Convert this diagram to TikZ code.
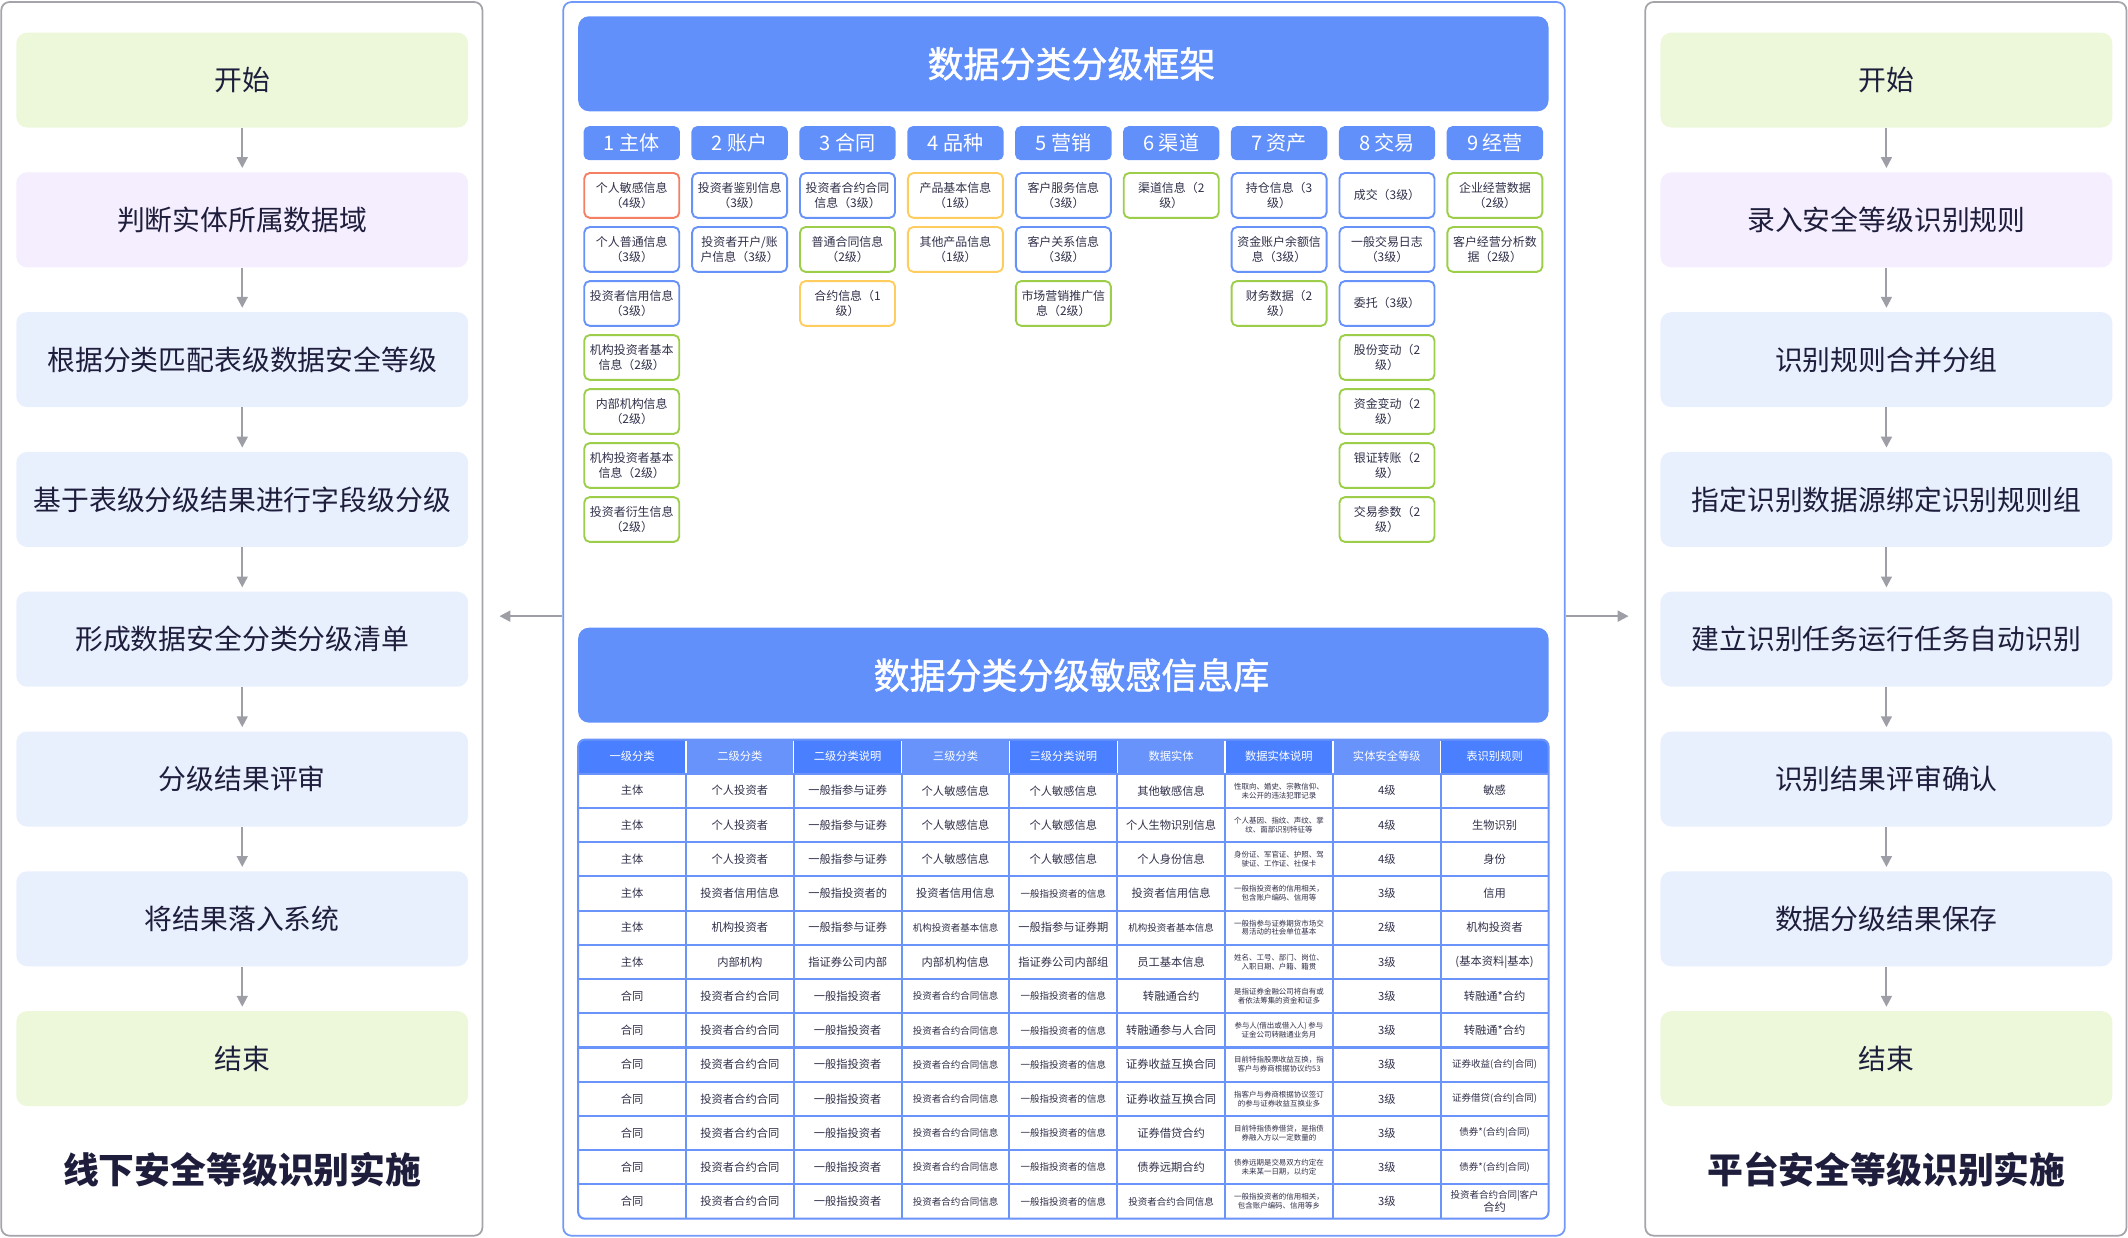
\documentclass[tikz,border=0pt]{standalone}
\usepackage{fontspec}
\setmainfont{Noto Sans CJK SC}
\newfontfamily\barfont{Noto Sans CJK SC}[FakeBold=1.3]
\usetikzlibrary{arrows.meta}
\definecolor{ink}{HTML}{1E1E3C}
\definecolor{cellink}{HTML}{30304A}
\definecolor{pgray}{HTML}{A4A4AA}
\definecolor{agray}{HTML}{9E9EA6}
\definecolor{pblue}{HTML}{7199F9}
\definecolor{tblue}{HTML}{6290FB}
\definecolor{hdark}{HTML}{4A80FF}
\definecolor{hlight}{HTML}{6893FA}
\definecolor{fgreen}{HTML}{EDF7DA}
\definecolor{fpurple}{HTML}{F5EEFE}
\definecolor{fblue}{HTML}{E8EFFD}
\definecolor{bred}{HTML}{F47F63}
\definecolor{bblue}{HTML}{6793F8}
\definecolor{bgreen}{HTML}{9DCE4A}
\definecolor{byellow}{HTML}{FFCD5E}
\definecolor{gridblue}{HTML}{6A94F9}
\newcommand\szFlow{\fontsize{20.5}{24}\selectfont}
\newcommand\szPT{\fontsize{26.4}{30}\selectfont\bfseries}
\newcommand\szBar{\barfont\fontsize{26.5}{30}\selectfont}
\newcommand\szCat{\fontsize{14.8}{17}\selectfont}
\newcommand\szSub{\fontsize{8.8}{11.5}\selectfont}
\newcommand\szBody{\fontsize{8.3}{10}\selectfont}
\newcommand\szSm{\fontsize{7}{8.6}\selectfont}
\newcommand\szXs{\fontsize{5.5}{6.6}\selectfont}
\newcommand\sbx[4]{\node[subb, draw=#3] (s#1-#2) at ({465.5+79.5*(#1-1)},{-144-39.8*(#2-1)}) {#4};}
\newcounter{trow}
\newcommand\tcell[3]{\node[tt,#2] (t\arabic{trow}-#1) at ({426+79.444*(#1-0.5)},{-570-25.23*(\arabic{trow}-0.5)}) {#3};}
\newcommand\trow[9]{\stepcounter{trow}%
  \tcell{1}{}{#1}\tcell{2}{}{#2}\tcell{3}{}{#3}\tcell{4}{}{#4}\tcell{5}{}{#5}%
  \tcell{6}{}{#6}\tcell{7}{font=\szXs}{#7}\tcell{8}{}{#8}\tcell{9}{}{#9}}
\begin{document}
\begin{tikzpicture}[x=1pt,y=1pt,
  panel/.style={draw=pgray, line width=1.3pt, rounded corners=6pt, minimum width=354.5pt, minimum height=909pt, inner sep=0},
  midpanel/.style={draw=pblue, line width=1.3pt, rounded corners=6pt, minimum width=738pt, minimum height=909pt, inner sep=0},
  flowbox/.style={rounded corners=8pt, minimum width=333pt, minimum height=70pt, inner sep=0, text=ink, font=\szFlow},
  ptitle/.style={text=ink, font=\szPT, inner sep=0},
  flowarr/.style={draw=agray, line width=1.5pt, -{Triangle[width=8pt,length=8pt]}},
  titlebar/.style={fill=tblue, rounded corners=8pt, minimum width=715pt, minimum height=70pt, inner sep=0, text=white, font=\szBar},
  cathead/.style={fill=tblue, rounded corners=4pt, minimum width=71pt, minimum height=25pt, inner sep=0, text=white, font=\szCat},
  subb/.style={line width=1.4pt, rounded corners=4pt, minimum width=70pt, minimum height=33pt, inner sep=0, text=cellink, font=\szSub, align=center, fill=white},
  tt/.style={font=\szBody, text=cellink, inner sep=0, align=center},
  th/.style={font=\szBody, text=white, inner sep=0},
  tline/.style={draw=gridblue, line width=1.5pt}
]
\useasboundingbox (0,0) rectangle (1568,-912);

% panels
\node[panel] (lp) at (178.2,-456) {};
\node[panel] (rp) at (1389.6,-456) {};
\node[midpanel] (mp) at (784,-456) {};

% left flow
\node[flowbox, fill=fgreen]  (l1) at (178.5,-59)  {开始};
\node[flowbox, fill=fpurple] (l2) at (178.5,-162) {判断实体所属数据域};
\node[flowbox, fill=fblue]   (l3) at (178.5,-265) {根据分类匹配表级数据安全等级};
\node[flowbox, fill=fblue]   (l4) at (178.5,-368) {基于表级分级结果进行字段级分级};
\node[flowbox, fill=fblue]   (l5) at (178.5,-471) {形成数据安全分类分级清单};
\node[flowbox, fill=fblue]   (l6) at (178.5,-574) {分级结果评审};
\node[flowbox, fill=fblue]   (l7) at (178.5,-677) {将结果落入系统};
\node[flowbox, fill=fgreen]  (l8) at (178.5,-780) {结束};
\node[ptitle] (lt) at (178.5,-862) {线下安全等级识别实施};

% right flow
\node[flowbox, fill=fgreen]  (r1) at (1390,-59)  {开始};
\node[flowbox, fill=fpurple] (r2) at (1390,-162) {录入安全等级识别规则};
\node[flowbox, fill=fblue]   (r3) at (1390,-265) {识别规则合并分组};
\node[flowbox, fill=fblue]   (r4) at (1390,-368) {指定识别数据源绑定识别规则组};
\node[flowbox, fill=fblue]   (r5) at (1390,-471) {建立识别任务运行任务自动识别};
\node[flowbox, fill=fblue]   (r6) at (1390,-574) {识别结果评审确认};
\node[flowbox, fill=fblue]   (r7) at (1390,-677) {数据分级结果保存};
\node[flowbox, fill=fgreen]  (r8) at (1390,-780) {结束};
\node[ptitle] (rt) at (1390,-862) {平台安全等级识别实施};

\foreach \p/\q in {1/2,2/3,3/4,4/5,5/6,6/7,7/8}{
  \draw[flowarr, shorten >=3pt] (l\p) -- (l\q);
  \draw[flowarr, shorten >=3pt] (r\p) -- (r\q);
}

% panel arrows
\coordinate (la) at (368,-454);
\coordinate (ra) at (1200,-454);
\draw[flowarr] (mp.west |- la) -- (la);
\draw[flowarr] (mp.east |- ra) -- (ra);

% framework
\node[titlebar] (tb1) at (783.5,-47) {\hspace*{12pt}\raisebox{-2pt}{数据分类分级框架}};
\foreach \k/\t in {1/1 主体,2/2 账户,3/3 合同,4/4 品种,5/5 营销,6/6 渠道,7/7 资产,8/8 交易,9/9 经营}{
  \node[cathead] (h\k) at ({465.5+79.5*(\k-1)},-105.5) {\t};
}
\sbx{1}{1}{bred}{个人敏感信息\\（4级）}
\sbx{1}{2}{bblue}{个人普通信息\\（3级）}
\sbx{1}{3}{bblue}{投资者信用信息\\（3级）}
\sbx{1}{4}{bgreen}{机构投资者基本\\信息（2级）}
\sbx{1}{5}{bgreen}{内部机构信息\\（2级）}
\sbx{1}{6}{bgreen}{机构投资者基本\\信息（2级）}
\sbx{1}{7}{bgreen}{投资者衍生信息\\（2级）}
\sbx{2}{1}{bblue}{投资者鉴别信息\\（3级）}
\sbx{2}{2}{bblue}{投资者开户/账\\户信息（3级）}
\sbx{3}{1}{bblue}{投资者合约合同\\信息（3级）}
\sbx{3}{2}{bgreen}{普通合同信息\\（2级）}
\sbx{3}{3}{byellow}{合约信息（1\\级）}
\sbx{4}{1}{byellow}{产品基本信息\\（1级）}
\sbx{4}{2}{byellow}{其他产品信息\\（1级）}
\sbx{5}{1}{bblue}{客户服务信息\\（3级）}
\sbx{5}{2}{bblue}{客户关系信息\\（3级）}
\sbx{5}{3}{bgreen}{市场营销推广信\\息（2级）}
\sbx{6}{1}{bgreen}{渠道信息（2\\级）}
\sbx{7}{1}{bblue}{持仓信息（3\\级）}
\sbx{7}{2}{bblue}{资金账户余额信\\息（3级）}
\sbx{7}{3}{bgreen}{财务数据（2\\级）}
\sbx{8}{1}{bblue}{成交（3级）}
\sbx{8}{2}{bblue}{一般交易日志\\（3级）}
\sbx{8}{3}{bblue}{委托（3级）}
\sbx{8}{4}{bgreen}{股份变动（2\\级）}
\sbx{8}{5}{bgreen}{资金变动（2\\级）}
\sbx{8}{6}{bgreen}{银证转账（2\\级）}
\sbx{8}{7}{bgreen}{交易参数（2\\级）}
\sbx{9}{1}{bgreen}{企业经营数据\\（2级）}
\sbx{9}{2}{bgreen}{客户经营分析数\\据（2级）}

% sensitive info library
\node[titlebar] (tb2) at (783.5,-497.5) {\hspace*{12pt}数据分类分级敏感信息库};

\begin{scope}
  \clip[rounded corners=5pt] (426,-545) rectangle (1141,-898);
  \fill[white] (426,-545) rectangle (1141,-898);
  \foreach \k in {1,3,5,7,9}{
    \fill[hdark] ({426+79.444*(\k-1)},-545) rectangle ({426+79.444*\k},-570);
  }
  \foreach \k in {2,4,6,8}{
    \fill[hlight] ({426+79.444*(\k-1)},-545) rectangle ({426+79.444*\k},-570);
  }
\end{scope}
\foreach \rr in {0,...,12}{
  \draw[tline] (426,{-570-25.23*\rr}) -- (1141,{-570-25.23*\rr});
}
\foreach \k in {1,...,8}{
  \draw[tline] ({426+79.444*\k},-570) -- ({426+79.444*\k},-898);
  \draw[white, line width=1pt] ({426+79.444*\k},-545.8) -- ({426+79.444*\k},-569.3);
}
\draw[tline, rounded corners=5pt] (426,-545) rectangle (1141,-898);

\foreach \k/\t in {1/一级分类,2/二级分类,3/二级分类说明,4/三级分类,5/三级分类说明,6/数据实体,7/数据实体说明,8/实体安全等级,9/表识别规则}{
  \node[th] (th\k) at ({426+79.444*(\k-0.5)},-557.5) {\t};
}

\trow{主体}{个人投资者}{一般指参与证券}{个人敏感信息}{个人敏感信息}{其他敏感信息}{性取向、婚史、宗教信仰、\\未公开的违法犯罪记录}{4级}{敏感}
\trow{主体}{个人投资者}{一般指参与证券}{个人敏感信息}{个人敏感信息}{个人生物识别信息}{个人基因、指纹、声纹、掌\\纹、面部识别特征等}{4级}{生物识别}
\trow{主体}{个人投资者}{一般指参与证券}{个人敏感信息}{个人敏感信息}{个人身份信息}{身份证、军官证、护照、驾\\驶证、工作证、社保卡}{4级}{身份}
\trow{主体}{投资者信用信息}{一般指投资者的}{投资者信用信息}{\szSm 一般指投资者的信息}{投资者信用信息}{一般指投资者的信用相关，\\包含账户编码、信用等}{3级}{信用}
\trow{主体}{机构投资者}{一般指参与证券}{\szSm 机构投资者基本信息}{一般指参与证券期}{\szSm 机构投资者基本信息}{一般指参与证券期货市场交\\易活动的社会单位基本}{2级}{机构投资者}
\trow{主体}{内部机构}{指证券公司内部}{内部机构信息}{指证券公司内部组}{员工基本信息}{姓名、工号、部门、岗位、\\入职日期、户籍、籍贯}{3级}{(基本资料|基本)}
\trow{合同}{投资者合约合同}{一般指投资者}{\szSm 投资者合约合同信息}{\szSm 一般指投资者的信息}{转融通合约}{是指证券金融公司将自有或\\者依法筹集的资金和证多}{3级}{转融通*合约}
\trow{合同}{投资者合约合同}{一般指投资者}{\szSm 投资者合约合同信息}{\szSm 一般指投资者的信息}{转融通参与人合同}{参与人(借出或借入人) 参与\\证金公司转融通业务月}{3级}{转融通*合约}
\trow{合同}{投资者合约合同}{一般指投资者}{\szSm 投资者合约合同信息}{\szSm 一般指投资者的信息}{证券收益互换合同}{目前特指股票收益互换，指\\客户与券商根据协议约53}{3级}{\szSm 证券收益(合约|合同)}
\trow{合同}{投资者合约合同}{一般指投资者}{\szSm 投资者合约合同信息}{\szSm 一般指投资者的信息}{证券收益互换合同}{指客户与券商根据协议签订\\的参与证券收益互换业多}{3级}{\szSm 证券借贷(合约|合同)}
\trow{合同}{投资者合约合同}{一般指投资者}{\szSm 投资者合约合同信息}{\szSm 一般指投资者的信息}{证券借贷合约}{目前特指债券借贷，是指债\\券融入方以一定数量的}{3级}{\szSm 债券*(合约|合同)}
\trow{合同}{投资者合约合同}{一般指投资者}{\szSm 投资者合约合同信息}{\szSm 一般指投资者的信息}{债券远期合约}{债券远期是交易双方约定在\\未来某一日期，以约定}{3级}{\szSm 债券*(合约|合同)}
\trow{合同}{投资者合约合同}{一般指投资者}{\szSm 投资者合约合同信息}{\szSm 一般指投资者的信息}{\szSm 投资者合约合同信息}{一般指投资者的信用相关，\\包含账户编码、信用等乡}{3级}{\szSm 投资者合约合同|客户\\合约}
\end{tikzpicture}
\end{document}
